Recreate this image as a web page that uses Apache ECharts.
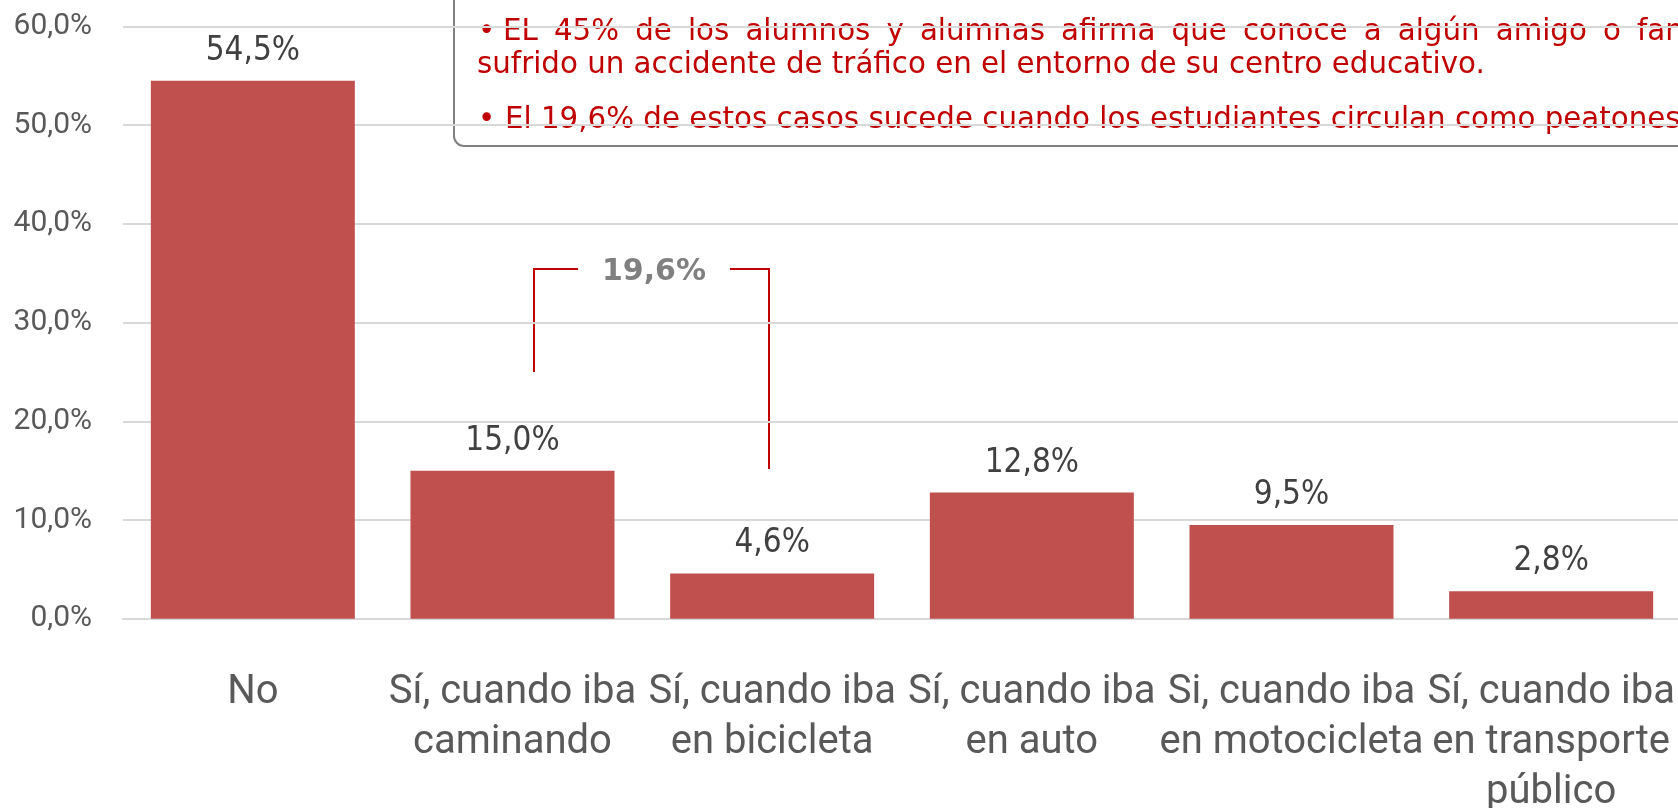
<!DOCTYPE html>
<html>
<head>
<meta charset="utf-8">
<script src="https://cdn.jsdelivr.net/npm/echarts@6/dist/echarts.min.js"></script>
<style>
  html, body { margin: 0; padding: 0; background: #fff; }
  #chart { width: 1678px; height: 808px; }
</style>
</head>
<body>
<div id="chart"></div>
<script>
// datos del gráfico
const categories = [
  'No',
  'Sí, cuando iba\ncaminando',
  'Sí, cuando iba\nen bicicleta',
  'Sí, cuando iba\nen auto',
  'Si, cuando iba\nen motocicleta',
  'Sí, cuando iba\nen transporte\npúblico'
]
const values = [54.5, 15.0, 4.6, 12.8, 9.5, 2.8]
const yTickLabels = ['0,0%', '10,0%', '20,0%', '30,0%', '40,0%', '50,0%', '60,0%']
const bracketLabel = '19,6%'

// texto del recuadro
const noteLine1 = ['EL', '45%', 'de', 'los', 'alumnos', 'y', 'alumnas', 'afirma', 'que', 'conoce', 'a', 'algún', 'amigo', 'o', 'familiar', 'que', 'haya']
const noteLine2 = 'sufrido un accidente de tráfico en el entorno de su centro educativo.'
const noteLine3 = 'El 19,6% de estos casos sucede cuando los estudiantes circulan como peatones.'

const pct = v => v.toFixed(1).replace('.', ',') + '%'

const RED = '#c00000'
const NOTE_FONT = '"DejaVu Sans", Verdana, sans-serif'

// la primera línea está justificada: repartir el espacio entre palabras
function justifiedWords() {
  const ctx = document.createElement('canvas').getContext('2d')
  ctx.font = '29.3px "DejaVu Sans"'
  const widths = noteLine1.map(w => ctx.measureText(w).width)
  const startX = 503
  const targetX = 1637 // inicio de "familiar"
  let sum = 0
  for (let i = 0; i < 14; i++) sum += widths[i]
  const gap = (targetX - startX - sum) / 14
  const out = []
  let x = startX
  noteLine1.forEach((w, i) => {
    out.push({
      type: 'text',
      x: x,
      y: 32,
      style: { text: w, fill: RED, font: '29.3px ' + NOTE_FONT, verticalAlign: 'middle' }
    })
    x += widths[i] + gap
  })
  return out
}

const chart = echarts.init(document.getElementById('chart'))

chart.setOption({
  animation: false,
  grid: {
    left: 123,
    right: -3,
    top: 26.5,
    bottom: 189.2,
    outerBoundsMode: 'none',
    containLabel: false
  },
  xAxis: {
    type: 'category',
    data: categories,
    axisTick: { show: false },
    axisLine: { lineStyle: { color: '#d9d9d9', width: 2 } },
    axisLabel: {
      interval: 0,
      margin: 49,
      color: '#595959',
      fontFamily: 'Roboto, sans-serif',
      fontSize: 40,
      lineHeight: 50
    }
  },
  yAxis: {
    type: 'value',
    min: 0,
    max: 60,
    interval: 10,
    axisLine: { show: false },
    axisTick: { show: false },
    splitLine: { lineStyle: { color: '#d9d9d9', width: 2 } },
    axisLabel: {
      margin: 31,
      color: '#595959',
      fontFamily: 'Roboto, sans-serif',
      fontSize: 30,
      formatter: (v) => yTickLabels[Math.round(v / 10)]
    }
  },
  series: [{
    type: 'bar',
    data: values,
    barWidth: 204,
    itemStyle: { color: '#c0504d' },
    label: {
      show: true,
      position: 'top',
      distance: 13,
      color: '#404040',
      fontFamily: '"DejaVu Sans Condensed", "DejaVu Sans", sans-serif',
      fontSize: 33,
      formatter: p => pct(p.value)
    }
  }],
  graphic: [
    {
      type: 'rect',
      shape: { x: 454, y: -20, width: 1400, height: 166, r: 10 },
      style: { fill: 'transparent', stroke: '#808080', lineWidth: 2 }
    },
    {
      type: 'text', x: 478, y: 32,
      style: { text: '•', fill: RED, font: '29.3px ' + NOTE_FONT, verticalAlign: 'middle' }
    },
    ...justifiedWords(),
    {
      type: 'text', x: 477, y: 65,
      style: { text: noteLine2, fill: RED, font: '29.3px ' + NOTE_FONT, verticalAlign: 'middle' }
    },
    {
      type: 'text', x: 478, y: 120,
      style: { text: '•', fill: RED, font: '29.3px ' + NOTE_FONT, verticalAlign: 'middle' }
    },
    {
      type: 'text', x: 505, y: 120,
      style: { text: noteLine3, fill: RED, font: '29.3px ' + NOTE_FONT, verticalAlign: 'middle' }
    },
    // corchete 19,6%
    {
      type: 'polyline',
      shape: { points: [[534, 372], [534, 269], [578, 269]] },
      style: { stroke: RED, lineWidth: 2, fill: null }
    },
    {
      type: 'polyline',
      shape: { points: [[730, 269], [769, 269], [769, 469]] },
      style: { stroke: RED, lineWidth: 2, fill: null }
    },
    {
      type: 'text', x: 654, y: 272,
      style: {
        text: bracketLabel, fill: '#808080',
        font: 'bold 30px "DejaVu Sans", sans-serif',
        align: 'center', verticalAlign: 'middle'
      }
    }
  ]
})
</script>
</body>
</html>
